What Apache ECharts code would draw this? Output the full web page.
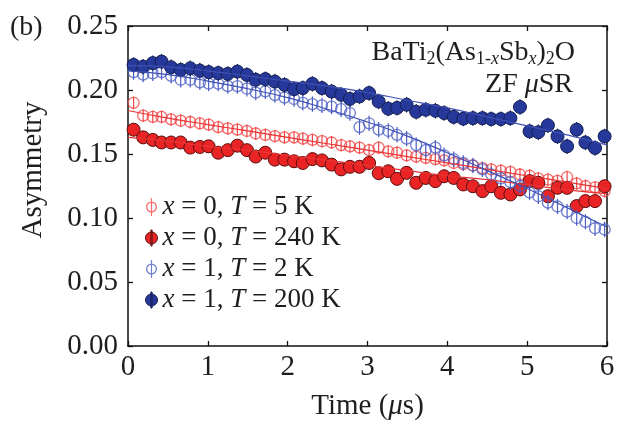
<!DOCTYPE html>
<html>
<head>
<meta charset="utf-8">
<script src="https://cdn.jsdelivr.net/npm/echarts@6/dist/echarts.min.js"></script>
<style>
  html, body { margin: 0; padding: 0; background: #ffffff; }
  #chart { width: 620px; height: 426px; }
</style>
</head>
<body>
<div id="chart"></div>
<script>
// Muon decay times (µs) shared by all four ZF µSR spectra
const times = [
  0.07, 0.19, 0.31, 0.42, 0.54, 0.66, 0.78, 0.90, 1.01, 1.13,
  1.25, 1.37, 1.49, 1.60, 1.72, 1.84, 1.96, 2.08, 2.19, 2.31,
  2.43, 2.55, 2.67, 2.78, 2.90, 3.02, 3.14, 3.26, 3.37, 3.49,
  3.61, 3.73, 3.85, 3.96, 4.08, 4.20, 4.32, 4.44, 4.55, 4.67,
  4.79, 4.91, 5.03, 5.14, 5.26, 5.38, 5.50, 5.62, 5.73, 5.85, 5.97
];

// x = 0, T = 5 K
const asymX0T5 = [
  0.190, 0.180, 0.179, 0.179, 0.177, 0.176, 0.175, 0.174, 0.173, 0.171,
  0.170, 0.169, 0.168, 0.166, 0.165, 0.164, 0.163, 0.163, 0.162, 0.161,
  0.160, 0.159, 0.157, 0.156, 0.155, 0.153, 0.155, 0.152, 0.151, 0.149,
  0.148, 0.147, 0.146, 0.145, 0.143, 0.142, 0.141, 0.139, 0.138, 0.137,
  0.136, 0.134, 0.133, 0.131, 0.130, 0.129, 0.132, 0.127, 0.125, 0.124, 0.121
];

// x = 0, T = 240 K
const asymX0T240 = [
  0.169, 0.163, 0.161, 0.159, 0.159, 0.159, 0.155, 0.1555, 0.156, 0.151,
  0.153, 0.1565, 0.153, 0.148, 0.151, 0.1456, 0.1456, 0.1443, 0.143, 0.146,
  0.145, 0.1417, 0.138, 0.140, 0.140, 0.143, 0.135, 0.1365, 0.1306, 0.1353,
  0.1275, 0.1313, 0.1288, 0.1326, 0.1313, 0.1262, 0.1248, 0.121, 0.1248, 0.1197,
  0.1184, 0.1223, 0.1288, 0.1275, 0.117, 0.1236, 0.1236, 0.1093, 0.1132, 0.1132, 0.1248
];

// x = 1, T = 2 K
const asymX1T2 = [
  0.214, 0.212, 0.213, 0.214, 0.211, 0.208, 0.208, 0.206, 0.205, 0.205,
  0.203, 0.203, 0.201, 0.198, 0.199, 0.196, 0.194, 0.193, 0.190, 0.189,
  0.188, 0.187, 0.185, 0.182, 0.171, 0.174, 0.169, 0.168, 0.165, 0.162,
  0.157, 0.153, 0.155, 0.149, 0.146, 0.143, 0.141, 0.138, 0.134, 0.131,
  0.128, 0.125, 0.120, 0.117, 0.112, 0.109, 0.105, 0.100, 0.097, 0.092, 0.091
];

// x = 1, T = 200 K
const asymX1T200 = [
  0.2196, 0.2183, 0.221, 0.2222, 0.2178, 0.2157, 0.217, 0.2152, 0.214, 0.2132,
  0.2126, 0.2144, 0.2118, 0.208, 0.2085, 0.2066, 0.204, 0.2007, 0.2015, 0.2048,
  0.2015, 0.1988, 0.1963, 0.193, 0.195, 0.1976, 0.191, 0.1854, 0.186, 0.1885,
  0.183, 0.1846, 0.1838, 0.182, 0.179, 0.1776, 0.178, 0.178, 0.1773, 0.1773,
  0.178, 0.1867, 0.1677, 0.167, 0.1724, 0.1638, 0.156, 0.169, 0.159, 0.1547, 0.1638
];

// Statistical error bar half-widths for each spectrum
const errX0T5 = 0.005;
const errX0T240 = 0.005;
const errX1T2 = 0.006;
const errX1T200 = 0.006;

// Fitted relaxation curves, sampled every 0.5 µs
const fitTimes = [0, 0.5, 1, 1.5, 2, 2.5, 3, 3.5, 4, 4.5, 5, 5.5, 6];
const fitX0T5   = [0.184, 0.178, 0.173, 0.168, 0.163, 0.158, 0.153, 0.148, 0.143, 0.138, 0.133, 0.128, 0.123];
const fitX0T240 = [0.163, 0.160, 0.156, 0.153, 0.149, 0.145, 0.141, 0.137, 0.133, 0.130, 0.126, 0.122, 0.119];
const fitX1T2   = [0.215, 0.212, 0.207, 0.201, 0.194, 0.185, 0.175, 0.164, 0.151, 0.137, 0.123, 0.108, 0.093];
const fitX1T200 = [0.219, 0.218, 0.215, 0.211, 0.207, 0.203, 0.198, 0.192, 0.186, 0.179, 0.172, 0.165, 0.157];

// Legend entries
const names = ['x = 0, T = 5 K', 'x = 0, T = 240 K', 'x = 1, T = 2 K', 'x = 1, T = 200 K'];
const legendLabels = [
  '{i|x} = 0, {i|T} = 5 K',
  '{i|x} = 0, {i|T} = 240 K',
  '{i|x} = 1, {i|T} = 2 K',
  '{i|x} = 1, {i|T} = 200 K'
];

const SERIF = 'Liberation Serif';
const INK = '#1e1e1e';
const RED = '#ea2424';
const RED_OPEN = '#f24545';
const RED_EDGE = '#5a1010';
const BLUE = '#26399a';
const BLUE_OPEN = '#4d5fc4';
const BLUE_EDGE = '#141f55';
const RED_LINE = '#e83434';
const BLUE_LINE = '#3f50b4';

const pairs = (ts, vs) => ts.map((t, i) => [t, vs[i]]);
const withErr = (ts, vs, e) => ts.map((t, i) => [t, vs[i], e]);

function errorBars(name, vals, err, color, z) {
  return {
    type: 'custom',
    name: name + ' err',
    silent: true,
    z: z,
    data: withErr(times, vals, err),
    renderItem: function (params, api) {
      const t = api.value(0), v = api.value(1), e = api.value(2);
      const top = api.coord([t, v + e]);
      const bot = api.coord([t, v - e]);
      return {
        type: 'line',
        shape: { x1: top[0], y1: top[1], x2: bot[0], y2: bot[1] },
        style: { stroke: color, lineWidth: 1.2 }
      };
    }
  };
}

function openPoints(name, vals, color, z) {
  return {
    type: 'scatter', name: name, z: z,
    data: pairs(times, vals),
    symbol: 'circle', symbolSize: 11,
    itemStyle: { color: 'rgba(255,255,255,0)', borderColor: color, borderWidth: 1.3 }
  };
}

function filledPoints(name, vals, color, edge, z) {
  return {
    type: 'scatter', name: name, z: z,
    data: pairs(times, vals),
    symbol: 'circle', symbolSize: 13,
    itemStyle: { color: color, borderColor: edge, borderWidth: 1, opacity: 1 }
  };
}

function fitLine(vals, color, z) {
  return {
    type: 'line', silent: true, z: z,
    data: pairs(fitTimes, vals),
    smooth: true, showSymbol: false, symbol: 'none',
    lineStyle: { color: color, width: 1.2 }
  };
}

// Legend glyphs: ring crossed by an error bar, and a disc with short error bar
const ICON_OPEN = 'path://M0.5 9A5.5 5.5 0 1 1 11.5 9A5.5 5.5 0 1 1 0.5 9Z' +
  'M1.8 9A4.2 4.2 0 1 0 10.2 9A4.2 4.2 0 1 0 1.8 9Z' +
  'M5.4 0L6.6 0L6.6 18L5.4 18Z';
const ICON_FILLED = 'path://M0 9A6 6 0 1 1 12 9A6 6 0 1 1 0 9Z' +
  'M5.4 1L6.6 1L6.6 17L5.4 17Z';

const axisLineStyle = { color: '#111', width: 1.5 };
const tickStyle = { show: true, inside: true, length: 5, lineStyle: { color: '#111', width: 1.3 } };

const chart = echarts.init(document.getElementById('chart'), null, { renderer: 'canvas' });

chart.setOption({
  animation: false,
  backgroundColor: '#ffffff',
  grid: { left: 128, right: 13, top: 26, bottom: 79, containLabel: false },
  xAxis: [
    {
      type: 'value', min: 0, max: 6, interval: 1, position: 'bottom',
      axisLine: { show: true, onZero: false, lineStyle: axisLineStyle },
      axisTick: tickStyle,
      splitLine: { show: false },
      axisLabel: { margin: 7, fontFamily: SERIF, fontSize: 29, color: INK },
      name: 'Time ({i|μ}s)',
      nameLocation: 'middle', nameGap: 46,
      nameTextStyle: {
        fontFamily: SERIF, fontSize: 29, color: INK,
        rich: { i: { fontFamily: SERIF, fontSize: 29, fontStyle: 'italic', color: INK } }
      }
    },
    {
      type: 'value', min: 0, max: 6, interval: 1, position: 'top',
      axisLine: { show: true, onZero: false, lineStyle: axisLineStyle },
      axisTick: tickStyle,
      splitLine: { show: false },
      axisLabel: { show: false }
    }
  ],
  yAxis: [
    {
      type: 'value', min: 0, max: 0.25, interval: 0.05, position: 'left',
      axisLine: { show: true, onZero: false, lineStyle: axisLineStyle },
      axisTick: tickStyle,
      splitLine: { show: false },
      axisLabel: {
        margin: 10, fontFamily: SERIF, fontSize: 29, color: INK,
        formatter: v => v.toFixed(2)
      }
    },
    {
      type: 'value', min: 0, max: 0.25, interval: 0.05, position: 'right',
      axisLine: { show: true, onZero: false, lineStyle: axisLineStyle },
      axisTick: tickStyle,
      splitLine: { show: false },
      axisLabel: { show: false }
    }
  ],
  legend: {
    orient: 'vertical',
    left: 140, top: 187,
    itemWidth: 12, itemHeight: 18, itemGap: 1,
    selectedMode: false,
    data: [
      { name: names[0], icon: ICON_OPEN, itemStyle: { color: RED_OPEN, borderWidth: 0 } },
      { name: names[1], icon: ICON_FILLED, itemStyle: { color: RED, borderColor: RED_EDGE, borderWidth: 1 } },
      { name: names[2], icon: ICON_OPEN, itemStyle: { color: BLUE_OPEN, borderWidth: 0 } },
      { name: names[3], icon: ICON_FILLED, itemStyle: { color: BLUE, borderColor: BLUE_EDGE, borderWidth: 1 } }
    ],
    formatter: name => legendLabels[names.indexOf(name)],
    textStyle: {
      fontFamily: SERIF, fontSize: 27, color: INK, lineHeight: 30,
      rich: { i: { fontFamily: SERIF, fontSize: 27, fontStyle: 'italic', color: INK, lineHeight: 30 } }
    }
  },
  graphic: [
    {
      type: 'text', left: 10, top: 13,
      style: { text: '(b)', font: '28px "Liberation Serif"', fill: INK, lineHeight: 30 }
    },
    {
      type: 'text', x: 33, y: 170, rotation: Math.PI / 2,
      style: {
        text: 'Asymmetry', font: '29px "Liberation Serif"', fill: INK,
        align: 'center', verticalAlign: 'middle'
      }
    },
    {
      type: 'text', right: 45, top: 38,
      style: {
        text: 'BaTi{s|2}(As{s|1-}{si|x}Sb{si|x}){s|2}O',
        font: '28px "Liberation Serif"', fill: INK, lineHeight: 30,
        rich: {
          s: { fontFamily: SERIF, fontSize: 18, color: INK, verticalAlign: 'bottom', lineHeight: 12 },
          si: { fontFamily: SERIF, fontSize: 18, fontStyle: 'italic', color: INK, verticalAlign: 'bottom', lineHeight: 12 }
        }
      }
    },
    {
      type: 'text', right: 47, top: 70,
      style: {
        text: 'ZF {i|μ}SR',
        font: '28px "Liberation Serif"', fill: INK, lineHeight: 30,
        rich: { i: { fontFamily: SERIF, fontSize: 28, fontStyle: 'italic', color: INK, lineHeight: 30 } }
      }
    }
  ],
  series: [
    errorBars(names[0], asymX0T5, errX0T5, RED_OPEN, 3),
    openPoints(names[0], asymX0T5, RED_OPEN, 3),
    errorBars(names[1], asymX0T240, errX0T240, RED_EDGE, 4),
    filledPoints(names[1], asymX0T240, RED, RED_EDGE, 5),
    errorBars(names[2], asymX1T2, errX1T2, BLUE_OPEN, 6),
    openPoints(names[2], asymX1T2, BLUE_OPEN, 6),
    errorBars(names[3], asymX1T200, errX1T200, BLUE_EDGE, 7),
    filledPoints(names[3], asymX1T200, BLUE, BLUE_EDGE, 8),
    fitLine(fitX0T5, RED_LINE, 9),
    fitLine(fitX0T240, RED_LINE, 9),
    fitLine(fitX1T2, BLUE_LINE, 9),
    fitLine(fitX1T200, BLUE_LINE, 9)
  ]
});
</script>
</body>
</html>
